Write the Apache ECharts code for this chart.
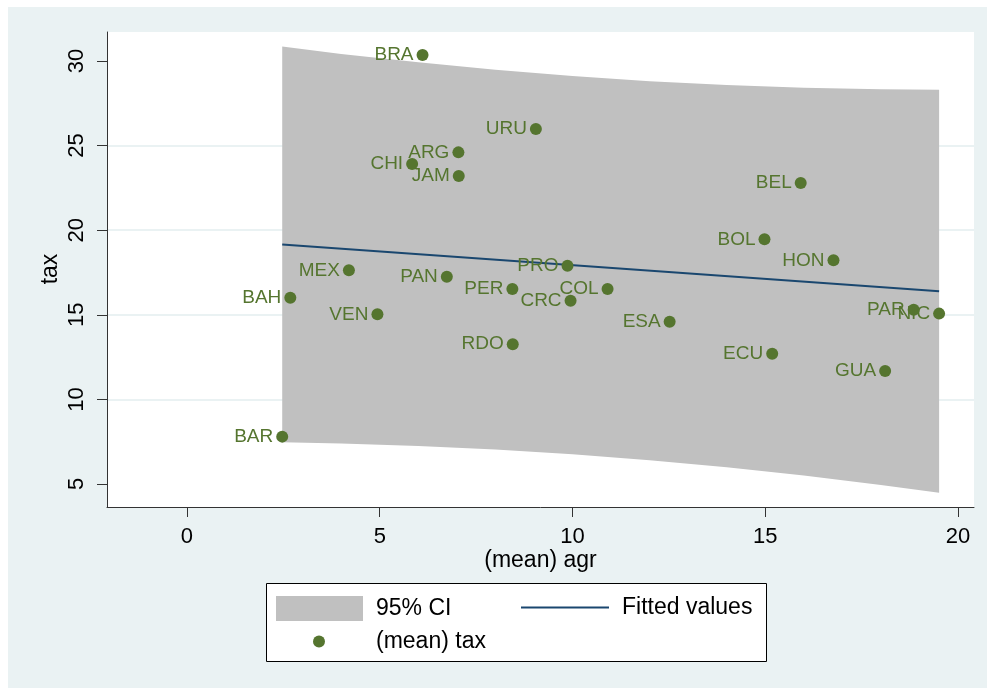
<!DOCTYPE html>
<html>
<head>
<meta charset="utf-8">
<script src="https://cdn.jsdelivr.net/npm/echarts@6/dist/echarts.min.js"></script>
<style>
  html, body { margin: 0; padding: 0; background: #ffffff; }
  #bg { position: absolute; left: 8px; top: 7px; width: 979px; height: 681px; background: #eaf2f3; }
  #chart { position: absolute; left: 0; top: 0; width: 987px; height: 688px; }
</style>
</head>
<body>
<div id="bg"></div>
<div id="chart"></div>
<script>
// Country labels, mean agr (x) and mean tax (y)
const countries = ['BRA','URU','ARG','CHI','JAM','MEX','PAN','PRO','PER','COL','CRC','BAH','VEN','RDO','BEL','BOL','HON','ESA','PAR','NIC','ECU','GUA','BAR'];
const agr = [6.11, 9.05, 7.04, 5.84, 7.05, 4.20, 6.74, 9.87, 8.44, 10.91, 9.95, 2.68, 4.94, 8.45, 15.92, 14.98, 16.77, 12.52, 18.85, 19.51, 15.18, 18.11, 2.47];
const tax = [30.35, 25.98, 24.60, 23.91, 23.20, 17.63, 17.25, 17.90, 16.52, 16.52, 15.83, 16.01, 15.03, 13.26, 22.79, 19.46, 18.22, 14.59, 15.30, 15.07, 12.70, 11.68, 7.80];

// Fitted line end points
const fitX = [2.47, 19.51];
const fitY = [19.16, 16.39];

// 95% CI band
const ciX = [2.47, 4, 6, 8, 10, 12, 14, 16, 18, 19.51];
const ciUpper = [30.86, 30.42, 29.92, 29.48, 29.11, 28.81, 28.58, 28.42, 28.33, 28.30];
const ciLower = [7.47, 7.40, 7.25, 7.04, 6.76, 6.41, 5.99, 5.50, 4.94, 4.48];

// Tick labels
const xTicks = [0, 5, 10, 15, 20];
const yTicks = [5, 10, 15, 20, 25, 30];

const FONT = "'Liberation Sans', Arial, Helvetica, sans-serif";
const GREEN = '#55752f';
const NAVY = '#1a476f';
const GRAY = '#c0c0c0';

const chart = echarts.init(document.getElementById('chart'), null, { renderer: 'canvas' });

const scatterData = countries.map((c, i) => ({ name: c, value: [agr[i], tax[i]] }));
const bandData = ciX.map((x, i) => [x, ciUpper[i], ciLower[i]]);
const fitData = fitX.map((x, i) => [x, fitY[i]]);

const option = {
  backgroundColor: 'transparent',
  animation: false,
  textStyle: { fontFamily: FONT },
  grid: {
    left: 107, right: 13, top: 32, bottom: 181,
    show: true, backgroundColor: '#ffffff', borderWidth: 0
  },
  xAxis: {
    type: 'value',
    min: -2.075, max: 20.415,
    name: '(mean) agr',
    nameLocation: 'middle',
    nameGap: 42,
    nameMoveOverlap: false,
    nameTextStyle: { fontSize: 23, color: '#000', fontFamily: FONT },
    axisLine: { show: true, onZero: false, lineStyle: { color: '#333', width: 1 } },
    axisTick: { show: true, length: 10, customValues: xTicks, lineStyle: { color: '#333', width: 1 } },
    axisLabel: { customValues: xTicks, fontSize: 22, color: '#000', margin: 19, fontFamily: FONT },
    splitLine: { show: false }
  },
  yAxis: {
    type: 'value',
    min: 3.641, max: 31.714,
    axisLine: { show: true, onZero: false, lineStyle: { color: '#333', width: 1 } },
    axisTick: { show: true, length: 10, customValues: yTicks, lineStyle: { color: '#333', width: 1 } },
    axisLabel: { customValues: yTicks, rotate: 90, fontSize: 22, color: '#000', margin: 19, fontFamily: FONT },
    splitLine: { show: true, showMinLine: false, showMaxLine: false, lineStyle: { color: '#eaf2f3', width: 2 } }
  },
  legend: [
    {
      left: 276, top: 596, padding: 0, itemWidth: 87, itemHeight: 25, itemGap: 0,
      data: [{ name: '95% CI', icon: 'rect', itemStyle: { color: GRAY } }],
      textStyle: { fontSize: 23, color: '#000', fontFamily: FONT, padding: [0, 0, 0, 8] },
      selectedMode: false
    },
    {
      left: 521, top: 596, padding: 0, itemWidth: 88, itemHeight: 2, itemGap: 0,
      data: [{ name: 'Fitted values', icon: 'rect', itemStyle: { color: NAVY } }],
      textStyle: { fontSize: 23, color: '#000', fontFamily: FONT, padding: [0, 0, 0, 8] },
      selectedMode: false
    },
    {
      left: 313, top: 630, padding: 0, itemWidth: 12, itemHeight: 12, itemGap: 0,
      data: [{ name: '(mean) tax', icon: 'circle', itemStyle: { color: GREEN, opacity: 1 } }],
      textStyle: { fontSize: 23, color: '#000', fontFamily: FONT, padding: [0, 0, 0, 46] },
      selectedMode: false
    }
  ],
  graphic: [
    {
      type: 'rect', left: 266, top: 583, z: 0,
      shape: { width: 500, height: 78 },
      style: { fill: '#ffffff', stroke: '#000000', lineWidth: 1 }
    },
    {
      type: 'text', x: 51, y: 269, rotation: Math.PI / 2, z: 5,
      style: { text: 'tax', fontSize: 23, fontFamily: FONT, fill: '#000', align: 'center', verticalAlign: 'middle' }
    }
  ],
  series: [
    {
      name: '95% CI',
      type: 'custom',
      z: 2,
      itemStyle: { color: GRAY },
      data: bandData,
      encode: { x: 0, y: [1, 2] },
      renderItem: function (params, api) {
        if (params.dataIndex !== 0) return;
        const pts = [];
        for (let i = 0; i < ciX.length; i++) pts.push(api.coord([ciX[i], ciUpper[i]]));
        for (let i = ciX.length - 1; i >= 0; i--) pts.push(api.coord([ciX[i], ciLower[i]]));
        return { type: 'polygon', shape: { points: pts }, style: { fill: GRAY } };
      }
    },
    {
      name: 'Fitted values',
      type: 'line',
      z: 3,
      symbol: 'none',
      data: fitData,
      itemStyle: { color: NAVY },
      lineStyle: { color: NAVY, width: 2 }
    },
    {
      name: '(mean) tax',
      type: 'scatter',
      z: 4,
      symbol: 'circle',
      symbolSize: 12,
      itemStyle: { color: GREEN, opacity: 1 },
      data: scatterData,
      label: {
        show: true,
        position: 'left',
        distance: 3,
        formatter: '{b}',
        fontSize: 19,
        color: GREEN,
        fontFamily: FONT
      }
    }
  ]
};

chart.setOption(option);
</script>
</body>
</html>
